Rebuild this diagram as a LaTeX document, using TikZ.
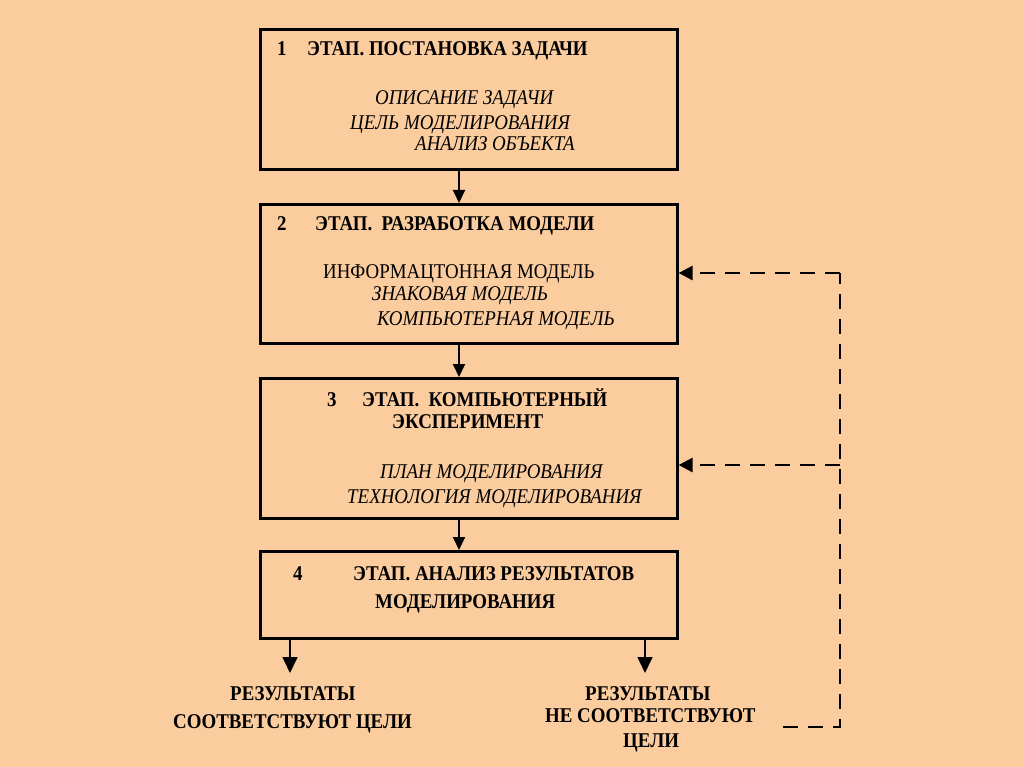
\documentclass[tikz,border=0pt]{standalone}
\usepackage{fontspec}
\setmainfont{Liberation Serif}[FakeStretch=0.9]
\usetikzlibrary{arrows.meta}
\definecolor{bg}{RGB}{250,204,158}
\begin{document}
\begin{tikzpicture}[x=1pt,y=-1pt,
 stage/.style={draw=black, line width=2.6pt, fill=bg, inner sep=0, minimum width=417pt, anchor=north west},
 ttl/.style={font=\bfseries\fontsize{21}{23}\selectfont, anchor=base west, inner sep=0},
 itl/.style={font=\itshape\fontsize{21}{23}\selectfont, anchor=base west, inner sep=0},
 rgl/.style={font=\fontsize{21}{23}\selectfont, anchor=base west, inner sep=0},
 flow/.style={line width=2pt, -{Triangle[length=13pt,width=12pt]}},
 outflow/.style={line width=1.6pt, -{Triangle[length=16pt,width=15pt]}},
 back/.style={line width=2.8pt, dash pattern=on 15pt off 10pt},
 backarrow/.style={back, -{Triangle[length=14pt,width=14pt]}}
]
\fill[bg] (0,0) rectangle (1024,767);
% boxes
\node[stage, minimum height=140pt] (b1) at (259,28) {};
\node[stage, minimum height=139pt] (b2) at (259,203) {};
\node[stage, minimum height=140pt] (b3) at (259,377) {};
\node[stage, minimum height=87pt, line width=3.4pt] (b4) at (259,550) {};
% box 1 text
\node[ttl] (n1) at (277,56) {1};
\node[ttl] (t1) at (307,56) {ЭТАП. ПОСТАНОВКА ЗАДАЧИ};
\node[itl] (t1a) at (375,105) {ОПИСАНИЕ ЗАДАЧИ};
\node[itl] (t1b) at (350,130) {ЦЕЛЬ МОДЕЛИРОВАНИЯ};
\node[itl] (t1c) at (415,151) {АНАЛИЗ ОБЪЕКТА};
% box 2 text
\node[ttl] (n2) at (277,231) {2};
\node[ttl] (t2) at (315,231) {ЭТАП.\ \ РАЗРАБОТКА МОДЕЛИ};
\node[rgl] (t2a) at (323,278) {ИНФОРМАЦТОННАЯ МОДЕЛЬ};
\node[itl] (t2b) at (372,300) {ЗНАКОВАЯ МОДЕЛЬ};
\node[itl] (t2c) at (377,325) {КОМПЬЮТЕРНАЯ МОДЕЛЬ};
% box 3 text
\node[ttl] (n3) at (327,406) {3};
\node[ttl] (t3) at (362,406) {ЭТАП.\ \ КОМПЬЮТЕРНЫЙ};
\node[ttl] (t3a) at (392,428) {ЭКСПЕРИМЕНТ};
\node[itl] (t3b) at (380,478) {ПЛАН МОДЕЛИРОВАНИЯ};
\node[itl] (t3c) at (347,503) {ТЕХНОЛОГИЯ МОДЕЛИРОВАНИЯ};
% box 4 text
\node[ttl] (n4) at (293,580) {4};
\node[ttl] (t4) at (353,580) {ЭТАП. АНАЛИЗ РЕЗУЛЬТАТОВ};
\node[ttl] (t4a) at (375,608) {МОДЕЛИРОВАНИЯ};
% results
\node[ttl] (r1) at (230,700) {РЕЗУЛЬТАТЫ};
\node[ttl] (r1a) at (173,728) {СООТВЕТСТВУЮТ ЦЕЛИ};
\node[ttl] (r2) at (585,700) {РЕЗУЛЬТАТЫ};
\node[ttl] (r2a) at (545,722) {НЕ СООТВЕТСТВУЮТ};
\node[ttl] (r2b) at (623,747) {ЦЕЛИ};
% flow arrows
\coordinate (col) at (459,0);
\draw[flow] (b1.south -| col) -- (b2.north -| col);
\draw[flow] (b2.south -| col) -- (b3.north -| col);
\draw[flow] (b3.south -| col) -- (b4.north -| col);
\coordinate (o1) at (290,673);
\coordinate (o2) at (645,673);
\draw[outflow] (b4.south -| o1) -- (o1);
\draw[outflow] (b4.south -| o2) -- (o2);
% feedback
\coordinate (c0) at (783,727);
\coordinate (c3) at (840,727);
\coordinate (c1) at (840,273);
\coordinate (c2) at (840,465);
\draw[back] (c0) -- (c3) -- (c1);
\draw[backarrow] (c1) -- (b2.east |- c1);
\draw[backarrow] (c2) -- (b3.east |- c2);
\end{tikzpicture}
\end{document}
